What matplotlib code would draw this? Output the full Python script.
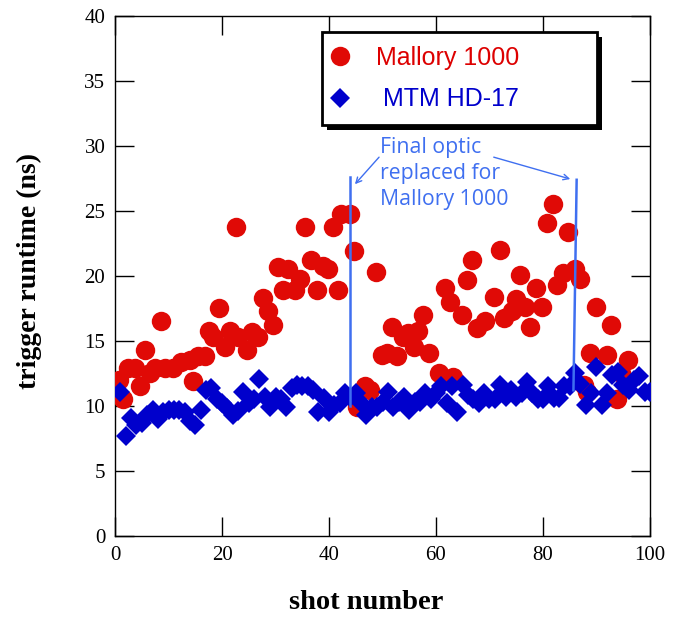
import numpy as np
import matplotlib
matplotlib.use("Agg")
import matplotlib.pyplot as plt
from matplotlib.patches import Rectangle
from matplotlib.transforms import IdentityTransform

# Mallory 1000 shots (shot number, trigger runtime in ns)
mallory_x = [0.7, 1.5, 2.5, 3.7, 4.6, 5.6, 6.5, 7.4, 8.5, 9.4, 10.8, 12.4, 14.0, 14.6,
             15.5, 16.8, 17.6, 18.3, 19.4, 20.6, 21.5, 22.6, 23.0, 24.6, 25.6, 26.8,
             27.6, 28.6, 29.6, 30.5, 31.4, 32.3, 33.6, 34.5, 35.5, 36.7, 37.7, 38.9,
             39.8, 40.7, 41.7, 42.3, 43.9, 44.7, 45.2, 46.7, 47.7, 48.8, 49.9, 50.8,
             51.7, 52.7, 53.9, 54.8, 55.8, 56.7, 57.6, 58.6, 60.6, 61.7, 62.7, 63.2,
             64.9, 65.8, 66.7, 67.7, 69.2, 70.8, 71.9, 72.7, 74.2, 74.9, 75.8, 76.6,
             77.6, 78.7, 79.8, 80.8, 81.8, 82.7, 83.8, 84.7, 86.0, 87.0, 87.6, 88.2,
             88.8, 89.9, 91.9, 92.8, 93.8, 94.5, 95.9]
mallory_y = [12.0, 10.5, 12.9, 12.9, 11.5, 14.3, 12.5, 12.9, 16.5, 12.9, 12.9, 13.4, 13.5, 11.9,
             13.8, 13.8, 15.8, 15.3, 17.5, 14.5, 15.8, 23.8, 15.3, 14.3, 15.7, 15.3,
             18.3, 17.3, 16.2, 20.7, 18.9, 20.5, 18.9, 19.8, 23.8, 21.2, 18.9, 20.8,
             20.5, 23.8, 18.9, 24.8, 24.8, 21.9, 9.9, 11.5, 11.2, 20.3, 13.9, 14.1,
             16.1, 13.8, 15.3, 15.6, 14.5, 15.8, 17.0, 14.1, 12.5, 19.1, 18.0, 12.2,
             17.0, 19.7, 21.2, 16.0, 16.5, 18.4, 22.0, 16.8, 17.3, 18.2, 20.1, 17.6,
             16.1, 19.1, 17.6, 24.1, 25.5, 19.3, 20.2, 23.4, 20.5, 19.8, 11.6, 11.1,
             14.1, 17.6, 13.9, 16.2, 10.5, 12.5, 13.5]

# MTM HD-17 shots
mtm_x = list(range(1, 101))
mtm_y = [11.1, 7.7, 9.1, 8.5, 8.7, 9.3, 9.7, 9.0, 9.5, 9.7,
         9.7, 9.7, 9.5, 8.8, 8.5, 9.7, 11.2, 11.4, 10.5, 10.2,
         9.8, 9.3, 9.6, 11.1, 10.2, 10.5, 12.05, 10.7, 9.9, 10.7,
         10.5, 9.9, 11.4, 11.6, 11.5, 11.5, 11.2, 9.5, 10.6, 9.5,
         10.1, 10.2, 11.0, 10.7, 11.0, 10.2, 9.3, 9.9, 9.9, 10.3,
         11.1, 9.9, 10.3, 10.7, 9.7, 10.3, 10.3, 11.0, 10.5, 11.0,
         11.5, 10.2, 11.5, 9.5, 11.6, 10.8, 10.5, 10.2, 11.0, 10.5,
         10.5, 11.6, 10.7, 11.2, 10.7, 11.0, 11.8, 11.0, 10.5, 10.5,
         11.5, 10.6, 10.6, 11.5, 11.5, 12.5, 11.7, 10.1, 11.0, 13.0,
         10.1, 11.0, 12.4, 12.6, 11.6, 11.2, 12.0, 12.3, 11.1, 11.1]

# optic replacement markers (shot number, top, bottom)
repl_x_top = [43.9, 86.3]
repl_x_bot = [43.9, 85.7]
repl_top = [27.6, 27.4]
repl_bot = [10.0, 11.2]

red = '#e00a06'
blue = '#0000cc'
note_blue = '#3f6ff0'

fig = plt.figure(figsize=(6.77, 6.18), dpi=100)
ax = fig.add_axes([0.170, 0.133, 0.790, 0.841])

ax.plot(mallory_x, mallory_y, 'o', color=red, ms=14, mew=0, label='Mallory 1000', zorder=3)
ax.plot(mtm_x, mtm_y, 'D', color=blue, ms=10, mew=0, label=' MTM HD-17', zorder=4)

for xt, xb, yt, yb in zip(repl_x_top, repl_x_bot, repl_top, repl_bot):
    ax.plot([xt, xb], [yt, yb], color=note_blue, lw=1.8, zorder=5)

ax.text(49.6, 30.7, 'Final optic\nreplaced for\nMallory 1000', color=note_blue,
        fontsize=15.3, family='Open Sans', va='top', ha='left', linespacing=1.3)
ax.annotate('', xy=(44.5, 26.9), xytext=(49.7, 29.3),
            arrowprops=dict(arrowstyle='->', color=note_blue, lw=1.0))
ax.annotate('', xy=(85.6, 27.4), xytext=(70.3, 29.2),
            arrowprops=dict(arrowstyle='->', color=note_blue, lw=1.0))

ax.set_xlim(0, 100)
ax.set_ylim(0, 40)
ax.set_xticks(np.arange(0, 101, 20))
ax.set_yticks(np.arange(0, 41, 5))
ax.tick_params(direction='in', length=14, width=1, top=True, right=True, pad=7,
               labelsize=15)
for lab in ax.get_xticklabels() + ax.get_yticklabels():
    lab.set_family('Liberation Serif')
for s in ax.spines.values():
    s.set_linewidth(1.0)

ax.set_xlabel('shot number', family='Liberation Serif', fontweight='bold', fontsize=20.5)
ax.set_ylabel('trigger runtime (ns)', family='Liberation Serif', fontweight='bold', fontsize=20)
ax.xaxis.set_label_coords(0.469, -0.105)
ax.yaxis.set_label_coords(-0.137, 0.51)

leg = ax.legend(loc='upper left', bbox_to_anchor=(0.387, 0.969, 0.514, 0.0), mode='expand',
                borderaxespad=0, borderpad=0.55, handlelength=0.3, handletextpad=1.3,
                labelspacing=0.7, fancybox=False, framealpha=1, edgecolor='black',
                prop={'family': 'Liberation Sans', 'size': 18})
leg.get_frame().set_linewidth(2)
leg.get_texts()[0].set_color('#dd0000')
leg.get_texts()[1].set_color(blue)

# heavier drop shadow behind the legend box
fig.canvas.draw()
bb = leg.get_frame().get_window_extent()
ax.add_patch(Rectangle((bb.x0 + 5, bb.y0 - 5), bb.width, bb.height, transform=IdentityTransform(),
                       facecolor='black', edgecolor='none', zorder=4.9, clip_on=False))

fig.savefig('out.png', dpi=100)
